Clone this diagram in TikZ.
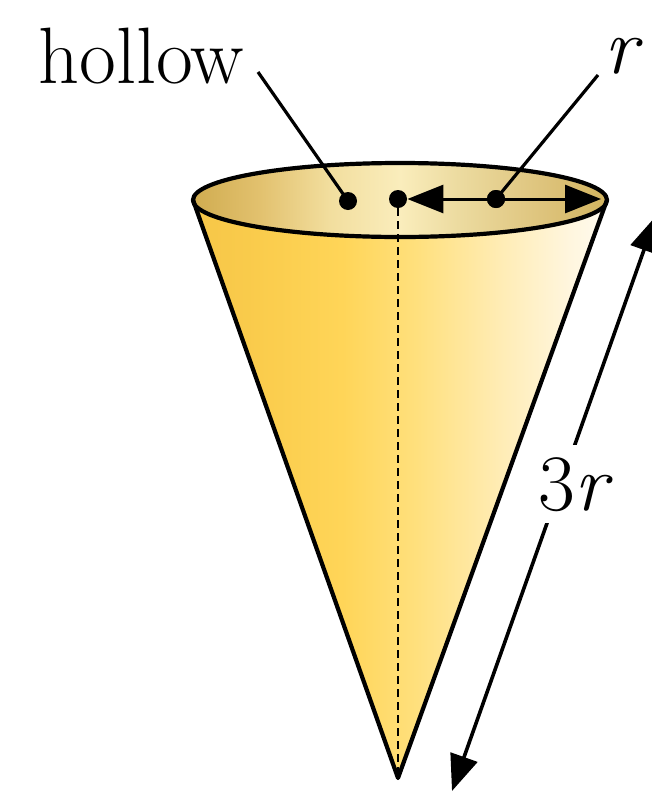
\documentclass[tikz,border=0pt]{standalone}
\usepackage{fontspec}
\usetikzlibrary{arrows.meta}

% side of the cone: golden on the left, fading to cream on the right
\definecolor{cA}{RGB}{246,198,72}
\definecolor{cB}{RGB}{250,204,76}
\definecolor{cC}{RGB}{255,213,88}
\definecolor{cD}{RGB}{255,224,125}
\definecolor{cE}{RGB}{255,236,180}
\definecolor{cF}{RGB}{255,246,222}
\definecolor{cG}{RGB}{255,251,240}
\pgfdeclarehorizontalshading{conefill}{100bp}{%
  color(0bp)=(cA); color(25bp)=(cA); color(33bp)=(cB); color(43bp)=(cC);
  color(52bp)=(cD); color(62bp)=(cE); color(70.5bp)=(cF); color(75bp)=(cG);
  color(100bp)=(cG)}

% inside of the opening: tan at both ends, pale in the middle
\definecolor{iA}{RGB}{208,172,80}
\definecolor{iB}{RGB}{226,193,110}
\definecolor{iC}{RGB}{242,222,158}
\definecolor{iD}{RGB}{250,237,188}
\definecolor{iE}{RGB}{236,219,160}
\definecolor{iF}{RGB}{222,196,125}
\definecolor{iG}{RGB}{210,180,95}
\pgfdeclarehorizontalshading{innerfill}{100bp}{%
  color(0bp)=(iA); color(25bp)=(iA); color(33bp)=(iB); color(41.5bp)=(iC);
  color(50bp)=(iD); color(57bp)=(iE); color(67bp)=(iF); color(75bp)=(iG);
  color(100bp)=(iG)}

\tikzset{
  outline/.style={line width=2.1pt, line join=round},
  leader/.style={line width=1.6pt},
  axisline/.style={line width=1.4pt, dash pattern=on 4pt off 2.5pt},
  dot/.style={circle, fill=black, inner sep=0pt, minimum size=9pt},
  label/.style={font=\fontsize{40}{48}\selectfont, inner sep=0pt},
  measure/.style={line width=1.8pt,
    {Triangle[length=18pt,width=14pt]}-{Triangle[length=18pt,width=14pt]}},
}

\begin{document}
\begin{tikzpicture}[x=0.5pt, y=-0.5pt]
\useasboundingbox (0,0) rectangle (652,793);

% key points of the cone
\coordinate (C) at (400,200);
\coordinate (rimL) at (193,200);
\coordinate (rimR) at (607,200);
\coordinate (apex) at (398,778);

% side of the cone
\path[shading=conefill] (rimL) -- (apex) -- (rimR)
  arc[start angle=0, end angle=-180, x radius=103.5pt, y radius=18.5pt] -- cycle;
% inside of the opening
\path[shading=innerfill] (C) ellipse [x radius=103.5pt, y radius=18.5pt];

% points on the rim plane
\node[dot] (hdot) at (348,201) {};
\node[dot] (cdot) at (398,199) {};
\node[dot] (rdot) at (496,199) {};
\coordinate (rtip) at (601,199);

% central axis
\draw[axisline] (cdot.south) -- (apex);

% outlines
\draw[outline] (rimL) -- (apex) -- (rimR);
\draw[outline] (C) ellipse [x radius=103.5pt, y radius=18.5pt];

% radius arrow
\draw[line width=1.5pt,
  {Triangle[length=18pt,width=14pt]}-{Triangle[length=18pt,width=14pt]}]
  (cdot.east) -- (rtip);
\node[dot] at (rdot) {};

% labels with leader lines
\node[label, anchor=base west] (hollow) at (38,83) {hollow};
\coordinate (hl) at (258,72);
\draw[leader] (hl) -- (hdot.center);

\node[label, anchor=base west] (rlab) at (604,73) {\itshape r};
\coordinate (rl) at (598,75);
\draw[leader] (rl) -- (rdot.center);

% slant height
\begin{scope}
  \clip (0,0) rectangle (652,793);
  \coordinate (sLo) at (452,791);
  \coordinate (sHi) at (656,216);
  \draw[measure] (sLo) -- (sHi);
\end{scope}
\node[label, fill=white, inner sep=6pt, anchor=base] (slant) at (573,510) {3{\itshape r}};
\end{tikzpicture}
\end{document}
